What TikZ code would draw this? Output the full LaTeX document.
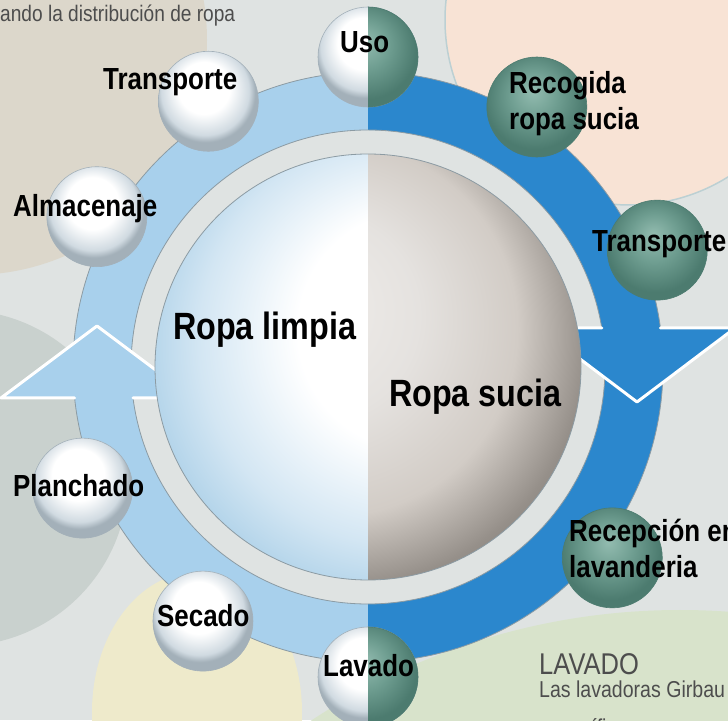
\documentclass[tikz,border=0pt]{standalone}
\usepackage{fontspec}
\usepackage{xcolor}
\usepackage{tikz}
\usetikzlibrary{calc}
\newfontfamily\narrowfont[FakeStretch=0.85]{Liberation Sans}

\definecolor{bggray}{HTML}{DFE3E2}
\definecolor{beige}{HTML}{DCD7CB}
\definecolor{peach}{HTML}{F8E3D5}
\definecolor{peachline}{HTML}{BCD0D3}
\definecolor{sage}{HTML}{C9D1CE}
\definecolor{sand}{HTML}{EEEACB}
\definecolor{mint}{HTML}{D8E3CB}
\definecolor{ringlight}{HTML}{A8D0EC}
\definecolor{ringdark}{HTML}{2B87CD}
\definecolor{ringline}{HTML}{8C9BA3}
\definecolor{ballgray}{HTML}{D0DAE1}
\definecolor{ballrim}{HTML}{A3B0B9}
\definecolor{greenhi}{HTML}{93BCB0}
\definecolor{greenmid}{HTML}{6F9E91}
\definecolor{greendk}{HTML}{4C7B6F}
\definecolor{limpiamid}{HTML}{D3E6F3}
\definecolor{limpiaedge}{HTML}{A3CBE5}
\definecolor{sucialight}{HTML}{F1EEEB}
\definecolor{suciamid}{HTML}{D2CCC6}
\definecolor{suciadark}{HTML}{7C7670}
\definecolor{textgray}{HTML}{4D4D4D}

\pgfdeclareradialshading{whiteball}{\pgfpoint{-3bp}{9bp}}{color(0bp)=(white); color(13bp)=(white); color(22bp)=(ballgray); color(25bp)=(ballrim); color(50bp)=(ballrim)}
\pgfdeclareradialshading{greenball}{\pgfpoint{-2bp}{8bp}}{color(0bp)=(greenhi); color(12bp)=(greenmid); color(25bp)=(greendk); color(50bp)=(greendk)}
\pgfdeclareradialshading{limpia}{\pgfpoint{8bp}{6bp}}{color(0bp)=(white); color(14bp)=(white); color(24bp)=(limpiamid); color(32bp)=(limpiaedge); color(50bp)=(limpiaedge)}
\pgfdeclareradialshading{sucia}{\pgfpoint{-8bp}{8bp}}{color(0bp)=(sucialight); color(12bp)=(sucialight!95!black); color(22bp)=(suciamid); color(29bp)=(suciadark!70!suciamid); color(34bp)=(suciadark); color(50bp)=(suciadark)}

\tikzset{
  whitesphere/.style={circle, minimum size=100pt, inner sep=0pt, shade, shading=whiteball, draw=ballrim, line width=0.6pt},
  greensphere/.style={circle, minimum size=100pt, inner sep=0pt, shade, shading=greenball, draw=greendk, line width=0.6pt},
  steplabel/.style={font=\narrowfont\bfseries\fontsize{30.5}{36}\selectfont, anchor=base west, inner sep=0pt, align=left},
  biglabel/.style={font=\narrowfont\bfseries\fontsize{38}{44}\selectfont, anchor=base west, inner sep=0pt},
  arrowedge/.style={white, line width=3pt, line join=round, line cap=round},
}

\begin{document}
\begin{tikzpicture}[x=1pt,y=1pt]
    \clip (0,0) rectangle (728,720);
    \fill[bggray] (0,0) rectangle (728,720);
    \fill[beige] (-28,680) circle (235);
    \fill[peach] (630,700) circle (185);
    \draw[peachline, line width=1.5pt] (630,700) circle (185);
    \fill[sage] (-40,242) circle (168);
    \fill[sand] (197,8) ellipse (105 and 140);
    \fill[mint] (680,-560) circle (670);

    \coordinate (c) at (368,353);
    \fill[bggray] (c) circle (237);
    \fill[ringlight] ($(c)+(0,295)$) arc (90:270:295) -- ($(c)+(0,-237)$) arc (270:90:237) -- cycle;
    \fill[ringdark] ($(c)+(0,295)$) arc (90:-90:295) -- ($(c)+(0,-237)$) arc (-90:90:237) -- cycle;
    \draw[ringline, line width=0.8pt] (c) circle (295) (c) circle (237);

    \fill[ringlight] (1,322) -- (97,394) -- (193,322) -- cycle;
    \draw[arrowedge] (74.6,322) -- (1,322) -- (97,394) -- (193,322) -- (133,322);
    \fill[ringdark] (539,392) -- (637,318) -- (735,392) -- cycle;
    \draw[arrowedge] (601.8,392) -- (539,392) -- (637,318) -- (735,392) -- (660.4,392);

    \begin{scope}
        \clip (150,135) rectangle (368,570);
        \shade[shading=limpia] (c) circle (213);
    \end{scope}
    \begin{scope}
        \clip (368,135) rectangle (585,570);
        \shade[shading=sucia] (c) circle (213);
    \end{scope}
    \draw[ringline, line width=0.8pt] (c) circle (213);

    \node[whitesphere] (uso) at ($(c)+(90:310)$) {};
    \node[whitesphere] (transpl) at ($(c)+(121:310)$) {};
    \node[whitesphere] (almacen) at ($(c)+(151:310)$) {};
    \node[whitesphere] (planch) at ($(c)+(203:310)$) {};
    \node[whitesphere] (secado) at ($(c)+(237:303)$) {};
    \node[whitesphere] (lavado) at ($(c)+(270:310)$) {};
    \node[greensphere] (recep) at ($(c)+(322:310)$) {};
    \node[greensphere] (transpr) at ($(c)+(22:312)$) {};
    \node[greensphere] (recog) at ($(c)+(57:310)$) {};
    \begin{scope}
        \clip (368,0) rectangle (728,720);
        \shade[shading=greenball] (uso) circle (50);
        \shade[shading=greenball] (lavado) circle (50);
        \draw[greendk, line width=0.6pt] (uso) circle (50) (lavado) circle (50);
    \end{scope}

    \node[steplabel] (usolbl) at (340,667) {Uso};
    \node[steplabel] (transpllbl) at (103,630) {Transporte};
    \node[steplabel] (almacenlbl) at (13,503) {Almacenaje};
    \node[steplabel] (planchlbl) at (13,223) {Planchado};
    \node[steplabel] (secadolbl) at (157,93) {Secado};
    \node[steplabel] (lavadolbl) at (323,43) {Lavado};
    \node[steplabel] (recoglbl) at (509,590) {Recogida\\ropa sucia};
    \node[steplabel] (transprlbl) at (592,468) {Transporte};
    \node[steplabel] (receplbl) at (569,142) {Recepción en\\lavanderia};

    \node[biglabel] (limpialbl) at (173,380) {Ropa limpia};
    \node[biglabel] (sucialbl) at (389,313) {Ropa sucia};

    \node[anchor=base west, inner sep=0pt, text=textgray, font=\narrowfont\fontsize{22.5}{27}\selectfont] (header) at (0,698) {ando la distribución de ropa};
    \node[anchor=base west, inner sep=0pt, text=textgray, font=\narrowfont\fontsize{30}{36}\selectfont] (lavtitle) at (539,45) {LAVADO};
    \node[anchor=base west, inner sep=0pt, text=textgray, font=\narrowfont\fontsize{23}{38}\selectfont, align=left] (lavtext) at (539,-15) {Las lavadoras Girbau\\específicas};
\end{tikzpicture}
\end{document}
